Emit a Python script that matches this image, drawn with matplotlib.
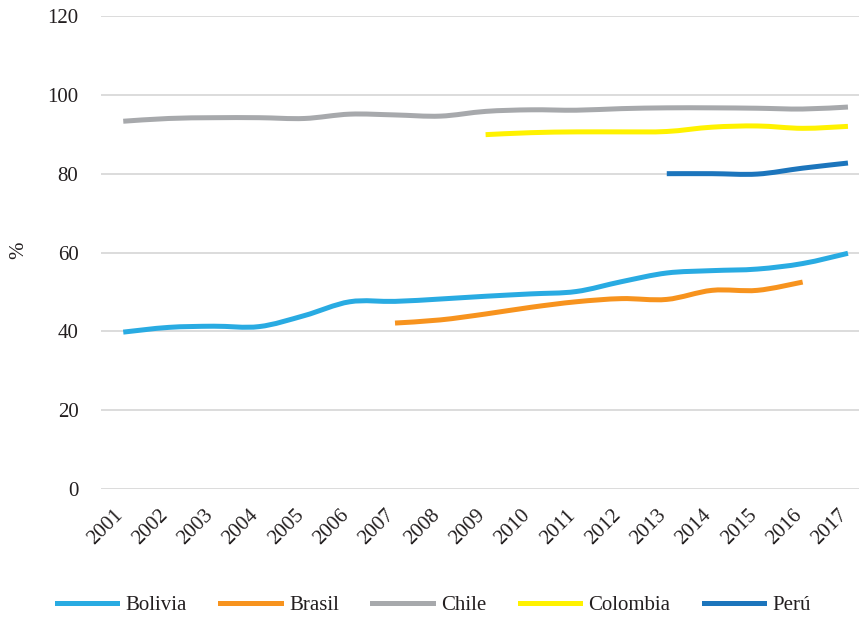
import numpy as np
import matplotlib
matplotlib.use("Agg")
import matplotlib.pyplot as plt
import matplotlib.transforms as mtransforms
from matplotlib.path import Path
from matplotlib.patches import PathPatch
from matplotlib.lines import Line2D

plt.rcParams["font.family"] = ["Liberation Serif", "DejaVu Serif"]

years = [str(y) for y in range(2001, 2018)]
nan = np.nan
bolivia = [39.8, 41.0, 41.3, 41.2, 44.0, 47.5, 47.6, 48.2, 48.9, 49.5,
           50.1, 52.6, 54.8, 55.4, 55.8, 57.2, 59.8]
brasil = [nan, nan, nan, nan, nan, nan, 42.1, 42.9, 44.4, 46.1,
          47.5, 48.3, 48.1, 50.4, 50.4, 52.5, nan]
chile = [93.3, 94.0, 94.2, 94.2, 94.0, 95.1, 94.9, 94.6, 95.8, 96.2,
         96.1, 96.5, 96.7, 96.7, 96.6, 96.4, 96.9]
colombia = [nan, nan, nan, nan, nan, nan, nan, nan, 89.9, 90.4,
            90.6, 90.6, 90.7, 91.8, 92.1, 91.5, 92.0]
peru = [nan, nan, nan, nan, nan, nan, nan, nan, nan, nan,
        nan, nan, 80.0, 80.0, 79.9, 81.4, 82.7]

series = [
    ("Bolivia", bolivia, "#29ABE2"),
    ("Brasil", brasil, "#F7931E"),
    ("Chile", chile, "#A7A9AC"),
    ("Colombia", colombia, "#FFF200"),
    ("Perú", peru, "#1C75BC"),
]


def smooth_path(xs, ys):
    """Cubic Bezier path through the points (Catmull-Rom style smoothing)."""
    pts = np.column_stack([xs, ys])
    n = len(pts)
    verts = [pts[0]]
    codes = [Path.MOVETO]
    for i in range(n - 1):
        p0 = pts[i - 1] if i > 0 else pts[i]
        p1 = pts[i]
        p2 = pts[i + 1]
        p3 = pts[i + 2] if i + 2 < n else pts[i + 1]
        c1 = p1 + (p2 - p0) / 6.0
        c2 = p2 - (p3 - p1) / 6.0
        verts += [c1, c2, p2]
        codes += [Path.CURVE4] * 3
    return Path(verts, codes)


fig = plt.figure(figsize=(8.59, 6.17), dpi=100)
ax = fig.add_axes([100.6 / 859, 128 / 617, 770 / 859, 473 / 617])

x = np.arange(len(years))
for name, vals, color in series:
    v = np.array(vals, dtype=float)
    ok = ~np.isnan(v)
    path = smooth_path(x[ok].astype(float), v[ok])
    ax.add_patch(PathPatch(path, facecolor="none", edgecolor=color,
                           lw=3.6, capstyle="butt", joinstyle="round",
                           zorder=3))

ax.set_xlim(-0.5, len(years) - 0.5)
ax.set_ylim(0, 120)
ax.set_yticks(range(0, 121, 20))
ax.yaxis.grid(True, color="#D9D9D9", lw=1.3)
ax.set_axisbelow(True)
for s in ax.spines.values():
    s.set_visible(False)
ax.tick_params(axis="both", length=0, labelsize=15, colors="#231F20")
ax.tick_params(axis="y", pad=16)
ax.set_xticks(x)
ax.set_xticklabels(years, rotation=45, ha="right", va="top",
                   rotation_mode="anchor")
ax.tick_params(axis="x", pad=10)
shift = mtransforms.ScaledTranslation(-10 / 100, -3 / 100, fig.dpi_scale_trans)
for lbl in ax.get_xticklabels():
    lbl.set_transform(lbl.get_transform() + shift)

fig.text(19 / 859, 1 - 250 / 617, "%", rotation=90, fontsize=15,
         color="#231F20", ha="center", va="center")

handles = [Line2D([], [], color=c, lw=3.6) for _, _, c in series]
labels = [n for n, _, _ in series]
fig.legend(handles, labels, loc="center", ncol=5,
           bbox_to_anchor=(434 / 859, 1 - 605 / 617), frameon=False,
           fontsize=15, handlelength=2.9, handletextpad=0.4,
           columnspacing=1.6, labelcolor="#231F20")

fig.savefig("out.png", dpi=100)
